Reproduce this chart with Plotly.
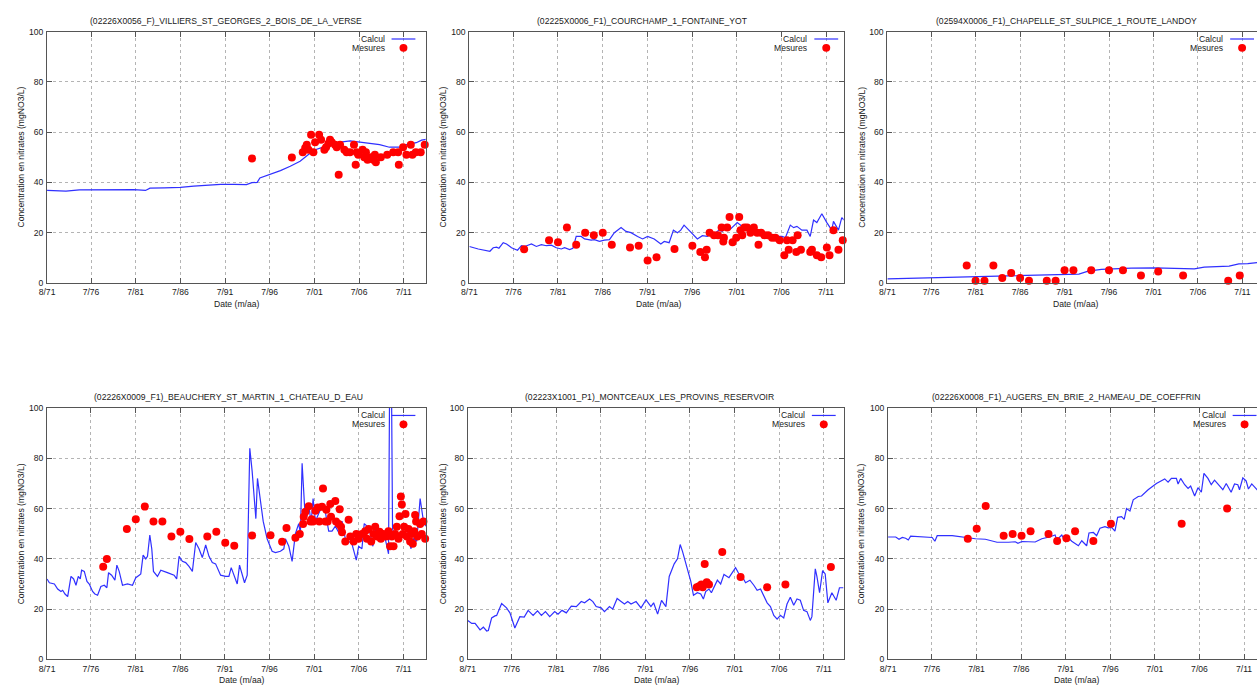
import plotly.graph_objects as go

W, H = 1257, 689

# ---------------------------------------------------------------- axes
TICK_YEARS = [1971.58, 1976.5, 1981.5, 1986.5, 1991.5, 1996.5, 2001.5, 2006.5, 2011.5]
TICK_TEXT = ["8/71", "7/76", "7/81", "7/86", "7/91", "7/96", "7/01", "7/06", "7/11"]
Y_TICKS = [0, 20, 40, 60, 80, 100]
X_START = 1971.58

Y_TITLE = "Concentration en nitrates (mgNO3/L)"
X_TITLE = "Date (m/aa)"
LEG_CALC = "Calcul"
LEG_MES = "Mesures"

TITLES = [
    "(02226X0056_F)_VILLIERS_ST_GEORGES_2_BOIS_DE_LA_VERSE",
    "(02225X0006_F1)_COURCHAMP_1_FONTAINE_YOT",
    "(02594X0006_F1)_CHAPELLE_ST_SULPICE_1_ROUTE_LANDOY",
    "(02226X0009_F1)_BEAUCHERY_ST_MARTIN_1_CHATEAU_D_EAU",
    "(02223X1001_P1)_MONTCEAUX_LES_PROVINS_RESERVOIR",
    "(02226X0008_F1)_AUGERS_EN_BRIE_2_HAMEAU_DE_COEFFRIN",
]

# ---------------------------------------------------------------- data (decimal year, mg NO3/L)
# 1 - Villiers St Georges
p1_calc_t = [1971.58, 1973.7, 1975.2, 1977.6, 1979.5, 1981.3, 1982.6, 1983.1, 1984.7, 1986.5,
             1988.0, 1989.5, 1991.0, 1992.5, 1993.9, 1994.5, 1995.1, 1995.4, 1996.6, 1997.7,
             1998.8, 1999.9, 2000.8, 2001.6, 2002.9, 2004.4, 2005.5, 2006.4, 2007.3, 2008.8,
             2009.9, 2011.1, 2011.8, 2012.9, 2013.5, 2014.1]
p1_calc_c = [36.8, 36.5, 37.0, 37.1, 37.3, 37.1, 36.8, 37.7, 37.8, 38.0,
             38.5, 38.9, 39.2, 39.2, 39.1, 39.9, 40.0, 41.8, 43.2, 44.7,
             46.4, 48.4, 51.0, 53.0, 54.5, 56.0, 56.5, 56.1, 55.6, 55.0,
             54.0, 54.0, 55.0, 55.8, 56.8, 57.2]
p1_mes_t = [1994.52, 1998.98, 2000.20, 2000.47, 2000.65, 2000.84, 2001.13, 2001.39, 2001.58,
            2002.03, 2002.25, 2002.62, 2002.81, 2003.07, 2003.25, 2003.44, 2003.81, 2004.00,
            2004.22, 2004.37, 2004.85, 2005.11, 2005.48, 2005.93, 2006.12, 2006.23, 2006.41,
            2006.90, 2007.08, 2007.27, 2007.45, 2007.83, 2008.09, 2008.27, 2008.38, 2008.94,
            2009.65, 2010.32, 2010.87, 2010.95, 2011.43, 2011.80, 2012.29, 2012.47, 2012.85,
            2013.40, 2013.85]
p1_mes_c = [49.5, 49.9, 52.0, 53.7, 55.0, 53.0, 59.0, 52.0, 56.0,
            59.0, 57.0, 53.0, 54.0, 55.5, 57.0, 56.0, 55.0, 54.0,
            43.0, 55.0, 53.0, 52.0, 52.0, 55.0, 47.0, 52.0, 51.0,
            53.0, 50.0, 52.0, 49.0, 50.0, 49.0, 51.0, 48.0, 50.0,
            51.0, 52.0, 52.0, 47.0, 54.0, 51.0, 55.0, 51.0, 52.0,
            52.0, 55.0]

# 2 - Courchamp
p2_calc_t = [1971.58, 1972.58, 1973.88, 1974.25, 1974.63, 1974.89, 1975.37, 1975.74, 1976.30,
             1976.97, 1977.41, 1977.78, 1978.53, 1979.08, 1979.64, 1980.20, 1980.76, 1981.31,
             1981.87, 1982.24, 1982.80, 1983.17, 1983.54, 1984.10, 1984.47, 1985.21, 1985.58,
             1986.14, 1986.70, 1987.26, 1987.81, 1988.56, 1989.11, 1989.67, 1990.41, 1990.97,
             1991.53, 1992.27, 1993.01, 1993.39, 1993.94, 1994.42, 1994.87, 1995.24, 1995.61,
             1996.17, 1996.73, 1997.10, 1997.66, 1998.21, 1998.58, 1999.14, 1999.51, 1999.89,
             2000.44, 2000.82, 2001.56, 2002.12, 2002.67, 2003.42, 2004.16, 2004.90, 2005.65,
             2006.57, 2006.95, 2007.50, 2007.87, 2008.24, 2008.80, 2009.36, 2009.73, 2010.10,
             2010.47, 2011.03, 2011.59, 2012.14, 2012.33, 2012.89, 2013.26, 2013.52]
p2_calc_c = [14.5, 13.5, 12.6, 14.0, 14.2, 13.8, 16.0, 15.5, 14.0,
             13.0, 14.8, 14.5, 15.5, 14.5, 15.2, 14.8, 15.0, 14.0,
             13.5, 14.0, 13.3, 13.8, 18.5, 18.5, 17.5, 17.0, 17.2,
             16.5, 17.0, 17.2, 20.0, 22.0, 20.5, 20.0, 18.5, 17.5,
             18.5, 17.5, 15.5, 16.5, 16.0, 21.0, 20.0, 21.0, 23.0,
             21.0, 19.0, 17.5, 18.8, 18.5, 19.5, 20.0, 21.0, 20.5,
             23.0, 21.5, 24.0, 22.5, 21.5, 21.0, 20.0, 19.0, 18.5,
             18.5, 18.0, 23.0, 22.0, 22.5, 21.0, 21.0, 18.5, 25.0,
             24.0, 27.5, 24.0, 21.0, 24.5, 21.0, 26.0, 25.0]
p2_mes_t = [1977.71, 1980.50, 1981.50, 1982.50, 1983.54, 1984.54, 1985.51, 1986.51, 1987.52,
            1989.56, 1990.53, 1991.53, 1992.53, 1994.54, 1996.54, 1997.43, 1997.95, 1998.14,
            1998.47, 1998.96, 1999.40, 1999.81, 2000.00, 2000.07, 2000.44, 2000.70, 2001.04,
            2001.45, 2001.78, 2001.93, 2002.12, 2002.37, 2002.67, 2003.04, 2003.42, 2003.79,
            2003.94, 2004.23, 2004.60, 2005.01, 2005.46, 2005.83, 2006.31, 2006.83, 2007.13,
            2007.32, 2007.76, 2008.17, 2008.32, 2008.69, 2009.73, 2009.92, 2010.47, 2010.96,
            2011.59, 2011.89, 2012.33, 2012.89, 2013.37]
p2_mes_c = [13.4, 17.0, 16.2, 22.0, 15.2, 20.0, 19.0, 20.0, 15.2,
            14.1, 14.8, 8.9, 10.2, 13.5, 14.8, 12.3, 10.2, 13.2,
            20.0, 19.0, 19.0, 22.0, 16.5, 18.0, 22.0, 26.2, 16.2,
            18.0, 26.2, 21.0, 19.0, 22.0, 22.0, 20.0, 22.0, 20.0,
            15.2, 20.0, 19.0, 19.0, 18.0, 18.0, 17.0, 11.0, 17.0,
            13.2, 17.0, 12.3, 19.0, 13.2, 12.3, 13.2, 11.0, 10.2,
            14.1, 11.0, 21.0, 13.2, 17.0]

# 3 - Chapelle St Sulpice
p3_calc_t = [1971.58, 1981.47, 1986.69, 1992.66, 1993.11, 1994.16, 1995.65, 1999.0, 2001.6,
             2006.1, 2007.2, 2010.0, 2011.1, 2012.1, 2013.4]
p3_calc_c = [1.6, 2.4, 2.9, 3.4, 3.5, 4.7, 5.4, 5.9, 6.0,
             5.6, 6.3, 6.7, 7.6, 7.7, 8.2]
p3_mes_t = [1980.5, 1981.5, 1982.5, 1983.5, 1984.5, 1985.5, 1986.5, 1987.5, 1989.5, 1990.5,
            1991.5, 1992.5, 1994.5, 1996.5, 1998.07, 2000.09, 2002.03, 2004.83, 2009.9, 2011.2]
p3_mes_c = [6.9, 0.9, 0.9, 6.9, 2.0, 3.9, 2.0, 0.9, 0.9, 0.9,
            5.0, 5.0, 5.0, 5.0, 5.0, 2.9, 4.5, 2.9, 0.9, 2.9]

# 4 - Beauchery St Martin
p4_calc_t = [1971.58, 1971.84, 1972.40, 1972.77, 1973.14, 1973.33, 1973.59, 1973.89, 1974.26,
             1974.56, 1974.82, 1975.08, 1975.30, 1975.45, 1975.75, 1976.05, 1976.31, 1976.68,
             1976.94, 1977.24, 1977.61, 1977.99, 1978.28, 1978.47, 1978.81, 1979.03, 1979.18,
             1979.40, 1979.66, 1980.03, 1980.59, 1981.15, 1981.52, 1981.90, 1982.08, 1982.34,
             1982.64, 1982.83, 1983.09, 1983.31, 1983.50, 1983.95, 1984.32, 1985.06, 1985.81,
             1986.10, 1986.37, 1986.74, 1987.11, 1987.48, 1987.86, 1988.23, 1988.60, 1988.97,
             1989.35, 1989.72, 1990.09, 1990.46, 1991.02, 1991.58, 1991.95, 1992.21, 1992.51,
             1992.88, 1993.14, 1993.44, 1993.70, 1994.00, 1994.29, 1994.55, 1994.82, 1994.97,
             1995.15, 1995.41, 1995.79, 1996.23, 1996.79, 1997.17, 1997.72, 1998.10, 1998.28,
             1998.66, 1999.03, 1999.40, 1999.77, 1999.96, 2000.15, 2000.44, 2000.71, 2000.89,
             2001.15, 2001.38, 2001.64, 2002.01, 2002.38, 2002.76, 2003.13, 2003.50, 2003.87,
             2004.25, 2004.62, 2004.99, 2005.36, 2005.73, 2006.22, 2006.48, 2006.85, 2007.11,
             2007.41, 2007.78, 2008.08, 2008.34, 2008.71, 2009.08, 2009.46, 2009.64, 2009.83,
             2009.98, 2010.13, 2010.28, 2010.69, 2010.95, 2011.32, 2011.69, 2012.07, 2012.33,
             2012.62, 2012.99, 2013.37, 2013.74, 2014.04]
p4_calc_c = [32.0, 30.5, 30.0, 28.0, 27.0, 27.5, 26.0, 25.0, 33.0,
             32.0, 29.5, 33.0, 32.0, 35.5, 35.0, 31.0, 30.0, 27.0,
             26.0, 25.5, 29.0, 29.5, 28.5, 34.5, 33.5, 32.0, 31.5,
             37.5, 35.0, 29.5, 30.0, 29.5, 32.5, 33.5, 34.0, 41.5,
             40.0, 41.0, 49.5, 44.0, 35.0, 33.0, 35.5, 34.5, 33.5,
             32.0, 41.0, 39.0, 38.5, 37.0, 35.0, 46.5, 44.0, 40.5,
             45.5, 41.0, 38.5, 38.0, 33.5, 33.0, 33.0, 36.5, 33.5,
             30.0, 37.5, 34.0, 30.5, 33.5, 84.0, 75.0, 60.0, 56.0,
             72.0, 65.0, 55.0, 48.0, 43.0, 42.5, 43.0, 44.0, 48.0,
             45.0, 39.0, 50.0, 54.0, 50.0, 78.0, 60.0, 57.0, 62.0,
             54.0, 64.0, 55.0, 58.0, 61.0, 58.5, 51.0, 51.0, 53.0,
             50.5, 55.0, 48.0, 47.0, 46.0, 39.5, 45.0, 44.0, 54.0,
             53.0, 50.0, 45.0, 52.0, 49.0, 50.0, 48.0, 45.0, 42.0,
             125.0, 125.0, 52.0, 47.0, 50.0, 49.0, 48.0, 51.0, 44.0,
             48.0, 47.0, 64.0, 55.0, 53.0]
p4_mes_t = [1977.87, 1978.28, 1980.52, 1981.52, 1982.53, 1983.50, 1984.50, 1985.51, 1986.51,
            1987.52, 1989.53, 1990.54, 1991.54, 1992.55, 1994.55, 1996.61, 1997.91, 1998.40,
            1999.40, 1999.89, 2000.26, 2000.33, 2000.52, 2000.89, 2001.08, 2001.23, 2001.38,
            2001.64, 2001.90, 2002.08, 2002.38, 2002.49, 2002.76, 2002.87, 2003.01, 2003.31,
            2003.39, 2003.87, 2003.95, 2004.25, 2004.36, 2004.51, 2004.62, 2004.99, 2005.36,
            2005.55, 2005.92, 2006.22, 2006.48, 2006.85, 2007.22, 2007.41, 2007.60, 2007.89,
            2008.15, 2008.34, 2008.53, 2008.82, 2008.97, 2009.27, 2009.57, 2009.83, 2010.01,
            2010.20, 2010.39, 2010.57, 2010.76, 2010.95, 2011.06, 2011.21, 2011.32, 2011.43,
            2011.58, 2011.73, 2011.88, 2012.07, 2012.25, 2012.44, 2012.55, 2012.70, 2012.81,
            2012.92, 2013.07, 2013.37, 2013.55, 2013.74, 2013.93]
p4_mes_c = [36.9, 39.9, 51.9, 55.8, 60.8, 54.9, 54.9, 48.9, 50.8,
            47.9, 48.9, 50.8, 46.4, 45.2, 49.3, 49.4, 46.8, 52.3,
            48.4, 49.9, 53.9, 56.7, 58.7, 60.9, 54.9, 55.8, 54.9,
            59.1, 60.4, 54.9, 60.7, 68.0, 54.9, 59.5, 54.9, 61.8,
            56.7, 63.0, 54.9, 53.9, 59.7, 52.8, 50.6, 46.9, 55.6,
            48.9, 46.9, 49.9, 48.0, 49.9, 51.0, 48.0, 51.9, 46.9,
            49.9, 52.8, 48.9, 50.8, 48.0, 49.9, 48.9, 51.0, 45.0,
            48.9, 45.0, 49.9, 52.8, 48.0, 56.9, 64.8, 61.6, 49.9,
            52.8, 57.8, 48.9, 51.9, 46.9, 49.9, 46.0, 51.0, 57.4,
            54.9, 48.9, 53.9, 49.9, 54.9, 48.0]

# 5 - Montceaux les Provins
p5_calc_t = [1971.58, 1972.03, 1972.40, 1972.96, 1973.33, 1973.70, 1973.89, 1974.26, 1974.63,
             1974.82, 1975.38, 1975.93, 1976.31, 1976.68, 1976.86, 1977.42, 1977.91, 1978.35,
             1978.91, 1979.40, 1979.84, 1980.29, 1980.77, 1981.33, 1981.70, 1982.15, 1982.63,
             1983.19, 1983.75, 1984.31, 1984.68, 1985.24, 1985.61, 1985.98, 1986.54, 1986.91,
             1987.47, 1987.84, 1988.33, 1988.77, 1989.15, 1989.52, 1989.89, 1990.45, 1991.01,
             1991.57, 1992.12, 1992.42, 1992.87, 1993.31, 1993.80, 1994.17, 1994.73, 1995.10,
             1995.40, 1995.66, 1996.22, 1996.59, 1996.89, 1997.33, 1997.71, 1998.00, 1998.26,
             1998.63, 1998.90, 1999.19, 1999.57, 1999.94, 2000.31, 2000.87, 2001.61, 2001.99,
             2002.36, 2002.73, 2003.22, 2003.66, 2004.03, 2004.41, 2004.78, 2005.15, 2005.52,
             2005.90, 2006.27, 2006.64, 2007.01, 2007.38, 2007.75, 2008.13, 2008.50, 2008.87,
             2009.24, 2009.62, 2009.99, 2010.17, 2010.55, 2010.73, 2011.03, 2011.37, 2011.66,
             2011.96, 2012.41, 2012.89, 2013.26, 2013.71]
p5_calc_c = [15.5, 14.3, 14.3, 11.7, 12.8, 11.3, 11.5, 16.5, 17.3,
             17.5, 22.2, 20.5, 18.5, 14.0, 12.5, 17.0, 16.8, 19.5,
             17.5, 19.3, 17.5, 19.0, 17.0, 19.0, 18.0, 19.5, 18.5,
             21.2, 21.0, 23.0, 22.5, 24.0, 23.0, 21.0, 20.5, 19.0,
             21.0, 20.0, 24.2, 23.0, 22.0, 23.0, 22.0, 23.0, 20.5,
             23.7, 21.0, 22.5, 18.0, 23.5, 21.0, 33.0, 38.0, 40.0,
             45.7, 43.0, 36.0, 31.0, 25.5, 26.5, 26.0, 24.0, 27.0,
             28.0, 26.5, 29.0, 31.5, 30.0, 33.8, 32.5, 36.5, 34.0,
             33.0, 30.5, 31.5, 29.5, 27.5, 28.0, 25.0, 22.5, 21.0,
             17.5, 16.0, 17.5, 16.5, 22.0, 24.7, 21.5, 24.0, 23.5,
             19.5, 19.0, 15.5, 17.0, 36.0, 33.0, 26.5, 35.3, 34.0,
             22.5, 26.5, 23.5, 28.5, 28.5]
p5_mes_t = [1997.26, 1997.52, 1997.78, 1997.93, 1998.15, 1998.38, 1998.63, 2000.12, 2002.17,
            2005.15, 2007.20, 2012.30]
p5_mes_c = [28.7, 29.1, 29.8, 28.7, 37.9, 30.7, 29.8, 42.7, 32.8,
            28.7, 29.8, 36.8]

# 6 - Augers en Brie
p6_calc_t = [1971.58, 1972.44, 1972.81, 1973.18, 1973.55, 1973.85, 1974.11, 1975.04, 1976.53,
             1976.83, 1977.09, 1978.77, 1980.26, 1981.38, 1982.49, 1983.80, 1985.10, 1985.84,
             1986.14, 1986.59, 1988.08, 1988.82, 1989.76, 1990.31, 1990.50, 1991.06, 1991.36,
             1991.62, 1992.18, 1992.92, 1993.30, 1993.85, 1994.11, 1994.60, 1994.97, 1995.34,
             1995.90, 1996.27, 1996.65, 1997.02, 1997.32, 1997.76, 1998.06, 1998.32, 1998.70,
             1999.07, 1999.63, 2000.00, 2000.74, 2001.67, 2002.60, 2002.98, 2003.35, 2003.91,
             2004.10, 2004.39, 2004.84, 2005.22, 2005.51, 2005.96, 2006.33, 2006.71, 2007.00,
             2007.45, 2007.82, 2008.19, 2008.75, 2009.12, 2009.50, 2010.05, 2010.43, 2010.80,
             2010.99, 2011.36, 2011.73, 2011.99, 2012.36, 2012.85, 2013.22]
p6_calc_c = [48.7, 48.7, 47.8, 48.5, 48.2, 47.5, 49.0, 48.8, 48.5,
             47.0, 49.2, 49.2, 48.5, 48.0, 47.8, 46.6, 46.6, 46.8,
             46.2, 46.9, 46.7, 48.0, 48.8, 49.5, 47.5, 49.5, 47.5,
             49.0, 47.0, 45.2, 47.2, 45.2, 50.3, 50.5, 49.2, 52.2,
             52.8, 52.3, 52.5, 51.0, 56.5, 56.8, 55.7, 60.0, 59.0,
             63.5, 64.8, 65.0, 67.5, 70.0, 71.8, 70.5, 72.0, 72.0,
             69.8, 72.0, 69.5, 68.0, 69.0, 65.0, 68.3, 66.5, 74.0,
             72.0, 69.5, 71.3, 69.0, 67.5, 70.0, 66.5, 69.8, 69.5,
             67.5, 72.2, 71.0, 67.8, 69.8, 67.8, 66.5]
p6_mes_t = [1980.52, 1981.52, 1982.53, 1984.54, 1985.55, 1986.55, 1987.56, 1989.57, 1990.54,
            1991.58, 1992.55, 1994.60, 1996.57, 2004.50, 2009.60]
p6_mes_c = [48.0, 52.0, 61.0, 49.2, 49.9, 49.2, 51.0, 49.9, 47.1,
            48.2, 51.0, 47.1, 54.0, 54.0, 60.0]

SERIES = [
    (p1_calc_t, p1_calc_c, p1_mes_t, p1_mes_c),
    (p2_calc_t, p2_calc_c, p2_mes_t, p2_mes_c),
    (p3_calc_t, p3_calc_c, p3_mes_t, p3_mes_c),
    (p4_calc_t, p4_calc_c, p4_mes_t, p4_mes_c),
    (p5_calc_t, p5_calc_c, p5_mes_t, p5_mes_c),
    (p6_calc_t, p6_calc_c, p6_mes_t, p6_mes_c),
]

# ---------------------------------------------------------------- frame geometry (pixels)
# left, right, top, bottom, last year on axis, right border drawn,
# title centre x, y-title x, x-title centre x, legend key centre x
FRAMES = [
    (39.3, 420.3, 27, 282, 2013.95, True, 219.5, 13.3, 230, 398),
    (464.3, 841.0, 27, 282, 2013.47, True, 638.8, 438.0, 655, 823.5),
    (885.0, 1257.0, 27, 282, 2013.14, False, 1065, 860.0, 1075, 1242),
    (39.3, 420.7, 409, 664, 2014.03, True, 222.2, 12.7, 235, 398),
    (462.7, 841.0, 409, 664, 2013.73, True, 645.5, 437.3, 653, 821),
    (885.7, 1257.0, 409, 664, 2012.95, False, 1065, 858.3, 1076, 1244.5),
]

FONT = "Liberation Sans, Arial, sans-serif"
TXT = "#1a1a1a"
FS = 8.6
AXIS_COL = "#555555"
GRID_COL = "#b4b4b4"
LINE_COL = "#3030ff"
DOT_COL = "#ff0000"


def px(x):
    return x / W


def py(y):
    return 1 - y / H


fig = go.Figure()
annotations = []
shapes = []

for i, ((ct, cc, mt, mc), frame, title) in enumerate(zip(SERIES, FRAMES, TITLES)):
    left, right, top, bottom, x_end, closed, tx, ytx, xtx, lk = frame
    n = "" if i == 0 else str(i + 1)

    fig.add_trace(go.Scatter(
        x=ct, y=cc, mode="lines", xaxis="x" + n, yaxis="y" + n,
        line=dict(color=LINE_COL, width=1.2), hoverinfo="skip", showlegend=False,
    ))
    fig.add_trace(go.Scatter(
        x=mt, y=mc, mode="markers", xaxis="x" + n, yaxis="y" + n,
        marker=dict(color=DOT_COL, size=8, line=dict(width=0)),
        cliponaxis=False, hoverinfo="skip", showlegend=False,
    ))

    common = dict(
        showline=True, linecolor=AXIS_COL, linewidth=1,
        ticks="inside", ticklen=5, tickwidth=1, tickcolor=AXIS_COL,
        showgrid=True, gridcolor=GRID_COL, gridwidth=1, griddash="dot",
        zeroline=False, fixedrange=True,
        tickfont=dict(family=FONT, size=FS, color=TXT),
    )
    fig.layout["xaxis" + n] = dict(
        common, domain=[px(left), px(right)], anchor="y" + n,
        range=[X_START, x_end], tickmode="array",
        tickvals=TICK_YEARS, ticktext=TICK_TEXT, mirror="ticks",
        ticklabelstandoff=1,
    )
    fig.layout["yaxis" + n] = dict(
        common, domain=[py(bottom), py(top)], anchor="x" + n,
        range=[0, 100], tickmode="array", tickvals=Y_TICKS,
        mirror="ticks" if closed else False,
        ticklabelstandoff=1,
    )

    annotations.append(dict(
        text=title, x=px(tx), y=py(top - 11), xref="paper", yref="paper",
        xanchor="center", yanchor="middle", showarrow=False,
        font=dict(family=FONT, size=FS, color=TXT),
    ))
    annotations.append(dict(
        text=Y_TITLE, x=px(ytx), y=py((top + bottom) / 2), xref="paper", yref="paper",
        xanchor="center", yanchor="middle", showarrow=False, textangle=-90,
        font=dict(family=FONT, size=FS, color=TXT),
    ))
    annotations.append(dict(
        text=X_TITLE, x=px(xtx), y=py(bottom + 21), xref="paper", yref="paper",
        xanchor="center", yanchor="middle", showarrow=False,
        font=dict(family=FONT, size=FS, color=TXT),
    ))

    # key: label on the left, sample on the right
    for row, (label, kind) in enumerate([(LEG_CALC, "line"), (LEG_MES, "dot")]):
        yk = top + 7.5 + 9 * row
        annotations.append(dict(
            text=label, x=px(lk - 17), y=py(yk), xref="paper", yref="paper",
            xanchor="right", yanchor="middle", showarrow=False,
            font=dict(family=FONT, size=FS, color=TXT),
        ))
        if kind == "line":
            shapes.append(dict(
                type="line", xref="paper", yref="paper",
                x0=px(lk - 12), x1=px(min(lk + 12, W)), y0=py(yk), y1=py(yk),
                line=dict(color=LINE_COL, width=1.2),
            ))
        else:
            shapes.append(dict(
                type="circle", xref="paper", yref="paper",
                x0=px(lk - 4), x1=px(lk + 4), y0=py(yk - 4), y1=py(yk + 4),
                fillcolor=DOT_COL, line=dict(width=0),
            ))

fig.update_layout(
    width=W, height=H, autosize=False,
    margin=dict(l=0, r=0, t=0, b=0),
    paper_bgcolor="white", plot_bgcolor="white",
    showlegend=False,
    annotations=annotations, shapes=shapes,
    font=dict(family=FONT, size=FS, color=TXT),
)

fig.write_html("out.html", config={"displayModeBar": False})
